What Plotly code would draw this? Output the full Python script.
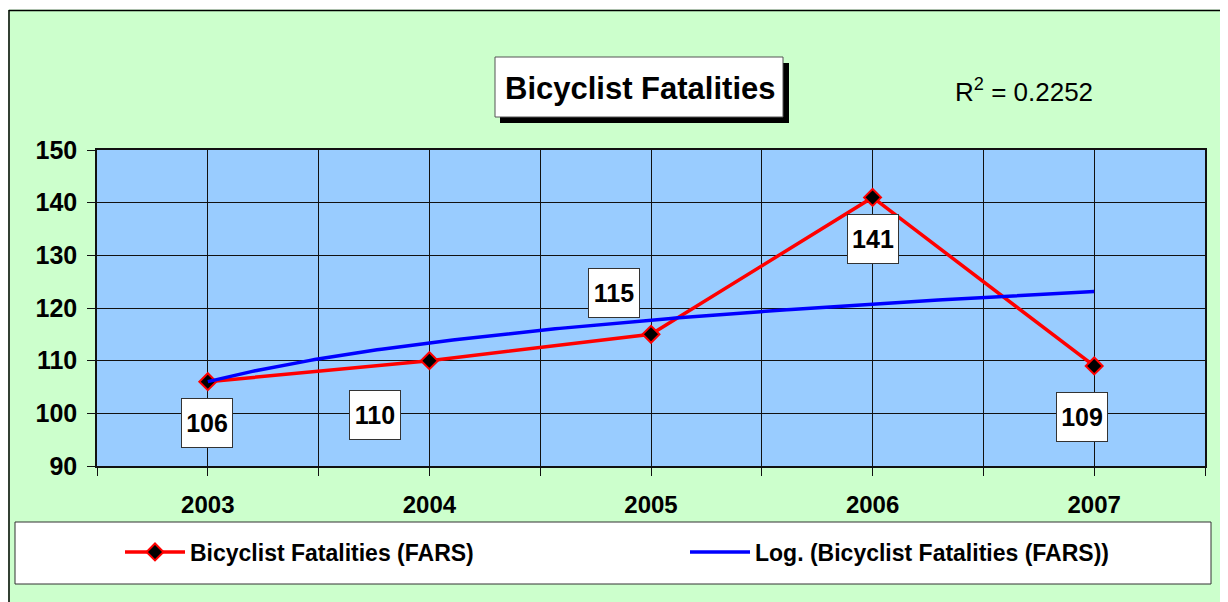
import numpy as np
import plotly.graph_objects as go

# ---- data ----
years = [2003, 2004, 2005, 2006, 2007]
year_labels = ["2003", "2004", "2005", "2006", "2007"]
fatalities = [106, 110, 115, 141, 109]
series_name = "Bicyclist Fatalities (FARS)"
trend_name = "Log. (Bicyclist Fatalities (FARS))"
r_squared_text = "0.2252"
y_ticks = [90, 100, 110, 120, 130, 140, 150]

# logarithmic trendline fitted to the data (as the spreadsheet does)
idx = np.arange(1, len(fatalities) + 1)
a, b = np.polyfit(np.log(idx), np.array(fatalities, dtype=float), 1)
t_idx = np.linspace(1, len(fatalities), 200)
trend_x = years[0] + (t_idx - 1)
trend_y = a * np.log(t_idx) + b

# page geometry (the page body adds an 8px offset)
OFF = 8
PW, PH = 1228, 602
W, H = PW - OFF, PH - OFF
L, R, T, B = 97, 1205, 150, 466  # plot area on the page
FONT = "Arial, Liberation Sans, sans-serif"


def px(xpage):
    return (xpage - L) / (R - L)


def py(ypage):
    return (B - ypage) / (B - T)


fig = go.Figure()
fig.add_trace(go.Scatter(
    x=years, y=fatalities, name=series_name, mode="lines+markers",
    line=dict(color="#FF0000", width=3.5),
    marker=dict(symbol="diamond", size=13, color="#000000",
                line=dict(color="#FF0000", width=2)),
    legend="legend",
))
fig.add_trace(go.Scatter(
    x=trend_x, y=trend_y, name=trend_name, mode="lines",
    line=dict(color="#0000FF", width=3.5),
    legend="legend2",
))

shapes = []
# white strip above the outer border + outer border
shapes.append(dict(type="rect", xref="paper", yref="paper", x0=px(0), x1=px(PW + 5),
                   y0=py(0), y1=py(9.5), fillcolor="white", line_width=0, layer="above"))
shapes.append(dict(type="line", xref="paper", yref="paper", x0=px(9), x1=px(9),
                   y0=py(10), y1=py(PH + 5), line=dict(color="black", width=1.5), layer="above"))
shapes.append(dict(type="line", xref="paper", yref="paper", x0=px(9), x1=px(PW + 5),
                   y0=py(10.5), y1=py(10.5), line=dict(color="black", width=1.5), layer="above"))
# title box with shadow
shapes.append(dict(type="rect", xref="paper", yref="paper", x0=px(500), x1=px(789),
                   y0=py(63), y1=py(123), fillcolor="black", line_width=0, layer="below"))
shapes.append(dict(type="rect", xref="paper", yref="paper", x0=px(495), x1=px(783),
                   y0=py(57), y1=py(117), fillcolor="white",
                   line=dict(color="#555555", width=1), layer="below"))
# legend box
shapes.append(dict(type="rect", xref="paper", yref="paper", x0=px(15), x1=px(1211),
                   y0=py(522), y1=py(584), fillcolor="white",
                   line=dict(color="#333333", width=1), layer="below"))
fig.update_layout(shapes=shapes)

annotations = [
    dict(text="<b>Bicyclist Fatalities</b>", xref="paper", yref="paper",
         x=px(640), y=py(88), showarrow=False, xanchor="center", yanchor="middle",
         font=dict(family=FONT, size=31, color="black")),
    dict(text="R<sup>2</sup> = " + r_squared_text, xref="paper", yref="paper",
         x=px(1024), y=py(90), showarrow=False, xanchor="center", yanchor="middle",
         font=dict(family=FONT, size=26, color="black")),
]
label_shifts = [(-1, -41), (-54, -54), (-37, 41), (0, -42), (-12, -51)]
for yr, v, (dx, dy) in zip(years, fatalities, label_shifts):
    annotations.append(dict(
        text="<b>%d</b>" % v, x=yr, y=v, xref="x", yref="y", showarrow=False,
        xshift=dx, yshift=dy, bgcolor="white", bordercolor="#333333", borderwidth=1,
        borderpad=0, width=50, height=48, align="center", valign="middle",
        font=dict(family=FONT, size=25, color="black")))
fig.update_layout(annotations=annotations)

fig.update_xaxes(
    range=[2002.5, 2007.5], tickvals=years, ticktext=year_labels,
    ticks="", showgrid=True, gridcolor="#111111", gridwidth=1,
    minor=dict(dtick=0.5, tick0=2002.5, showgrid=True, gridcolor="#111111",
               ticks="outside", ticklen=8, tickcolor="#111111"),
    showline=True, linecolor="#111111", linewidth=1.5, mirror=True,
    tickfont=dict(family=FONT, size=24, color="black", weight="bold"),
    ticklabelstandoff=16, zeroline=False,
)
fig.update_yaxes(
    range=[90, 150], tickvals=y_ticks, ticks="outside", ticklen=8,
    tickcolor="#111111", showgrid=True, gridcolor="#111111", gridwidth=1,
    showline=True, linecolor="#111111", linewidth=1.5, mirror=True,
    tickfont=dict(family=FONT, size=25, color="black", weight="bold"),
    ticklabelstandoff=5, zeroline=False,
)

legend_common = dict(orientation="h", xanchor="left", yanchor="middle",
                     bgcolor="rgba(0,0,0,0)", borderwidth=0, itemwidth=60,
                     font=dict(family=FONT, size=23, color="black", weight="bold"))
fig.update_layout(
    width=W, height=H,
    margin=dict(l=L - OFF, r=PW - R, t=T - OFF, b=PH - B, autoexpand=False),
    paper_bgcolor="#CCFFCC", plot_bgcolor="#99CCFF",
    showlegend=True,
    legend=dict(x=px(120), y=py(552), **legend_common),
    legend2=dict(x=px(685), y=py(552), **legend_common),
    font=dict(family=FONT),
)

fig.write_html("out.html")
